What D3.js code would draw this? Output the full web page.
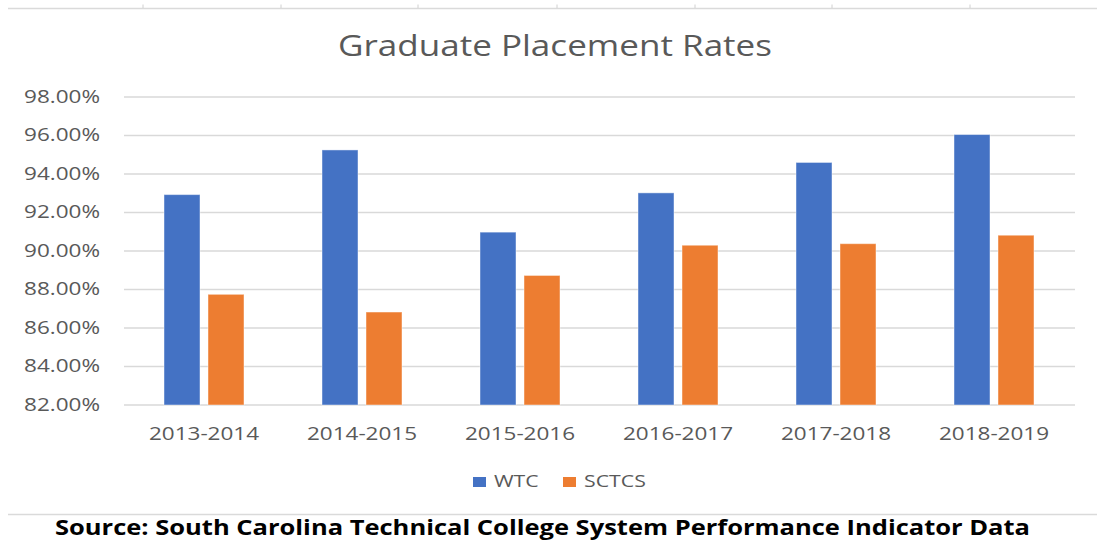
<!DOCTYPE html>
<html><head><meta charset="utf-8">
<script src="https://cdn.jsdelivr.net/npm/d3@7"></script>
<style>body{margin:0;background:#fff}svg{display:block}</style>
</head><body>
<script>
const categories = ["2013-2014","2014-2015","2015-2016","2016-2017","2017-2018","2018-2019"];
const seriesNames = ["WTC","SCTCS"];
const wtc = [92.93, 95.25, 90.98, 93.02, 94.6, 96.05];
const sctcs = [87.75, 86.83, 88.73, 90.3, 90.38, 90.82];
const yTicks = [82,84,86,88,90,92,94,96,98];
const colors = ["#4472C4","#ED7D31"];
const topTicks = [143, 281, 418, 557, 695, 832, 970];

const W = 1097, H = 540;
const STRETCH = 1.25;
const svg = d3.select("body").append("svg").attr("width", W).attr("height", H);

function stretch(sel, k) {
  sel.each(function(){
    const len = this.getComputedTextLength();
    d3.select(this).attr("textLength", len * (k||STRETCH)).attr("lengthAdjust","spacingAndGlyphs");
  });
}

// decorative page lines
svg.append("line").attr("x1",8).attr("x2",W).attr("y1",8.5).attr("y2",8.5).attr("stroke","#dadada").attr("stroke-width",1.5);
svg.selectAll(".tt").data(topTicks).enter().append("line")
  .attr("x1",d=>d).attr("x2",d=>d).attr("y1",4.5).attr("y2",8).attr("stroke","#d0d0d0");
svg.append("line").attr("x1",8).attr("x2",W).attr("y1",514.5).attr("y2",514.5).attr("stroke","#dadada").attr("stroke-width",1.5);

const x0 = d3.scaleBand().domain(categories).range([125, 1073]).paddingInner(0).paddingOuter(0);
const y = d3.scaleLinear().domain([82, 98]).range([405, 97]);

// gridlines
svg.append("g").selectAll("line").data(yTicks).enter().append("line")
  .attr("x1",124).attr("x2",1075).attr("y1",d=>y(d)).attr("y2",d=>y(d))
  .attr("stroke","#d9d9d9").attr("stroke-width",1.3);

// y axis labels
const yAxis = d3.axisLeft(y).tickValues(yTicks).tickFormat(d=>d.toFixed(2)+"%").tickSize(0).tickPadding(0);
const ga = svg.append("g").attr("transform","translate(100,0)").call(yAxis);
ga.select(".domain").remove();
ga.selectAll("text").attr("font-family","'Open Sans', sans-serif").attr("font-size",18).attr("fill","#595959").attr("dy","0.3em");
stretch(ga.selectAll("text"));

// x axis labels
const xAxis = d3.axisBottom(x0).tickSize(0).tickPadding(0);
const gx = svg.append("g").attr("transform","translate(0,427)").call(xAxis);
gx.select(".domain").remove();
gx.selectAll("text").attr("font-family","'Open Sans', sans-serif").attr("font-size",18).attr("fill","#595959");
stretch(gx.selectAll("text"));

// bars
const barW = 36, gap = 8;
const x1 = d3.scaleOrdinal().domain(seriesNames).range([-(gap/2+barW), gap/2]);
const data = [wtc, sctcs];
seriesNames.forEach((s,i)=>{
  svg.append("g").selectAll("rect").data(categories).enter().append("rect")
    .attr("x", c => x0(c) + x0.bandwidth()/2 + x1(s))
    .attr("y", (c,j) => y(data[i][j]))
    .attr("width", barW)
    .attr("height", (c,j) => y(82) - y(data[i][j]))
    .attr("fill", colors[i])
    .attr("stroke","rgba(255,255,255,0.45)").attr("stroke-width",1);
});

// title
const title = svg.append("text").attr("x",555).attr("y",56).attr("text-anchor","middle")
  .attr("font-family","'Open Sans', sans-serif").attr("font-size",29).attr("fill","#595959")
  .text("Graduate Placement Rates");
stretch(title, 1.0);
title.attr("textLength",434);

// legend
const leg = svg.append("g");
const legX = [473, 563];
seriesNames.forEach((s,i)=>{
  leg.append("rect").attr("x",legX[i]).attr("y",477).attr("width",13).attr("height",10).attr("fill",colors[i]);
  const t = leg.append("text").attr("x",legX[i]+21).attr("y",487).attr("font-family","'Open Sans', sans-serif")
    .attr("font-size",17).attr("fill","#595959").text(s);
  stretch(t);
});

// source
svg.append("text").attr("x",55).attr("y",535).attr("font-family","'Open Sans', sans-serif")
  .attr("font-weight","bold").attr("font-size",22).attr("fill","#000")
  .attr("textLength",975).attr("lengthAdjust","spacingAndGlyphs")
  .text("Source:  South Carolina Technical College System Performance Indicator Data");
</script>
</body></html>
